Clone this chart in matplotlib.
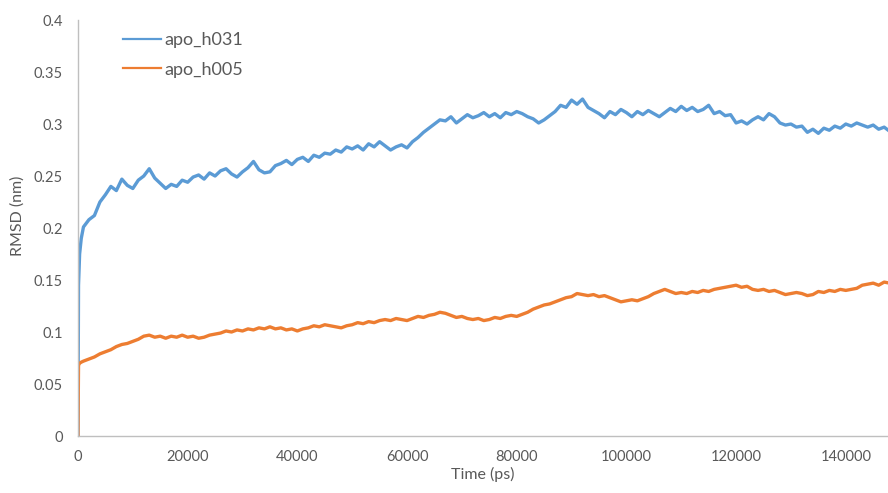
import numpy as np
import matplotlib
matplotlib.use('Agg')
import matplotlib.pyplot as plt

# RMSD of two apo runs
# time in ps: a few early frames, then one value per 1000 ps
t_early = [0, 100, 300, 600]
t_main = list(range(1000, 149000, 1000))
time_ps = t_early + t_main

h031_early = [0.0, 0.145, 0.175, 0.190]
h031_main = [
    0.201, 0.208, 0.212, 0.225, 0.232, 0.240, 0.236, 0.247, 0.241, 0.238,
    0.246, 0.250, 0.257, 0.248, 0.243, 0.238, 0.242, 0.240, 0.246, 0.244,
    0.249, 0.251, 0.247, 0.253, 0.250, 0.255, 0.257, 0.252, 0.249, 0.254,
    0.258, 0.264, 0.256, 0.253, 0.254, 0.260, 0.262, 0.265, 0.261, 0.266,
    0.268, 0.264, 0.270, 0.268, 0.272, 0.271, 0.275, 0.273, 0.278, 0.276,
    0.279, 0.275, 0.281, 0.278, 0.283, 0.279, 0.275, 0.278, 0.280, 0.277,
    0.283, 0.287, 0.292, 0.296, 0.300, 0.304, 0.303, 0.307, 0.301, 0.305,
    0.309, 0.306, 0.308, 0.311, 0.307, 0.310, 0.306, 0.311, 0.309, 0.312,
    0.310, 0.307, 0.305, 0.301, 0.304, 0.308, 0.312, 0.318, 0.316, 0.323,
    0.319, 0.324, 0.316, 0.313, 0.310, 0.306, 0.312, 0.309, 0.314, 0.311,
    0.307, 0.312, 0.309, 0.313, 0.310, 0.307, 0.311, 0.315, 0.312, 0.317,
    0.313, 0.316, 0.312, 0.314, 0.318, 0.310, 0.312, 0.308, 0.309, 0.301,
    0.303, 0.300, 0.304, 0.307, 0.304, 0.310, 0.307, 0.301, 0.299, 0.300,
    0.297, 0.298, 0.292, 0.295, 0.291, 0.296, 0.294, 0.298, 0.296, 0.300,
    0.298, 0.301, 0.299, 0.297, 0.299, 0.295, 0.297, 0.293,
]

h005_early = [0.0, 0.068, 0.070, 0.071]
h005_main = [
    0.072, 0.074, 0.076, 0.079, 0.081, 0.083, 0.086, 0.088, 0.089, 0.091,
    0.093, 0.096, 0.097, 0.095, 0.096, 0.094, 0.096, 0.095, 0.097, 0.095,
    0.096, 0.094, 0.095, 0.097, 0.098, 0.099, 0.101, 0.100, 0.102, 0.101,
    0.103, 0.102, 0.104, 0.103, 0.105, 0.103, 0.104, 0.102, 0.103, 0.101,
    0.103, 0.104, 0.106, 0.105, 0.107, 0.106, 0.105, 0.104, 0.106, 0.107,
    0.109, 0.108, 0.110, 0.109, 0.111, 0.112, 0.111, 0.113, 0.112, 0.111,
    0.113, 0.115, 0.114, 0.116, 0.117, 0.119, 0.118, 0.116, 0.114, 0.115,
    0.113, 0.112, 0.113, 0.111, 0.112, 0.114, 0.113, 0.115, 0.116, 0.115,
    0.117, 0.119, 0.122, 0.124, 0.126, 0.127, 0.129, 0.131, 0.133, 0.134,
    0.137, 0.136, 0.135, 0.136, 0.134, 0.135, 0.133, 0.131, 0.129, 0.130,
    0.131, 0.130, 0.132, 0.134, 0.137, 0.139, 0.141, 0.139, 0.137, 0.138,
    0.137, 0.139, 0.138, 0.140, 0.139, 0.141, 0.142, 0.143, 0.144, 0.145,
    0.143, 0.144, 0.141, 0.140, 0.141, 0.139, 0.140, 0.138, 0.136, 0.137,
    0.138, 0.137, 0.135, 0.136, 0.139, 0.138, 0.140, 0.139, 0.141, 0.140,
    0.141, 0.142, 0.145, 0.146, 0.147, 0.145, 0.148, 0.147,
]

rmsd_h031 = h031_early + h031_main
rmsd_h005 = h005_early + h005_main

x_ticks = [0, 20000, 40000, 60000, 80000, 100000, 120000, 140000]
y_ticks = [0, 0.05, 0.1, 0.15, 0.2, 0.25, 0.3, 0.35, 0.4]

plt.rcParams['font.family'] = ['Lato', 'DejaVu Sans']

fig = plt.figure(figsize=(8.88, 4.93), dpi=100)
ax = fig.add_axes([0.0878, 0.1156, 0.9122, 0.8438])

ax.plot(time_ps, rmsd_h031, color='#5B9BD5', lw=2.4, label='apo_h031')
ax.plot(time_ps, rmsd_h005, color='#ED7D31', lw=2.4, label='apo_h005')

ax.set_xlim(0, 147700)
ax.set_ylim(0, 0.4)
ax.set_xticks(x_ticks)
ax.set_xticklabels([str(v) for v in x_ticks])
ax.set_yticks(y_ticks)
ax.set_yticklabels(['0', '0.05', '0.1', '0.15', '0.2', '0.25', '0.3', '0.35', '0.4'])
ax.tick_params(length=0, labelsize=10.5, labelcolor='#595959')
ax.tick_params(axis='y', pad=11)
ax.tick_params(axis='x', pad=10)

for side in ['top', 'right']:
    ax.spines[side].set_visible(False)
for side in ['left', 'bottom']:
    ax.spines[side].set_color('#BFBFBF')
    ax.spines[side].set_linewidth(1.0)

ax.set_xlabel('Time (ps)', fontsize=11.5, color='#595959', labelpad=2)
ax.set_ylabel('RMSD (nm)', fontsize=11.5, color='#595959', labelpad=5)
ax.yaxis.set_label_coords(-0.066, 0.53)

leg = ax.legend(loc='upper left', bbox_to_anchor=(0.036, 1.01), frameon=False,
                fontsize=13, handlelength=2.1, handletextpad=0.15, labelspacing=0.75,
                labelcolor='#595959')
for line in leg.get_lines():
    line.set_linewidth(1.6)

fig.savefig('out.png', dpi=100)
